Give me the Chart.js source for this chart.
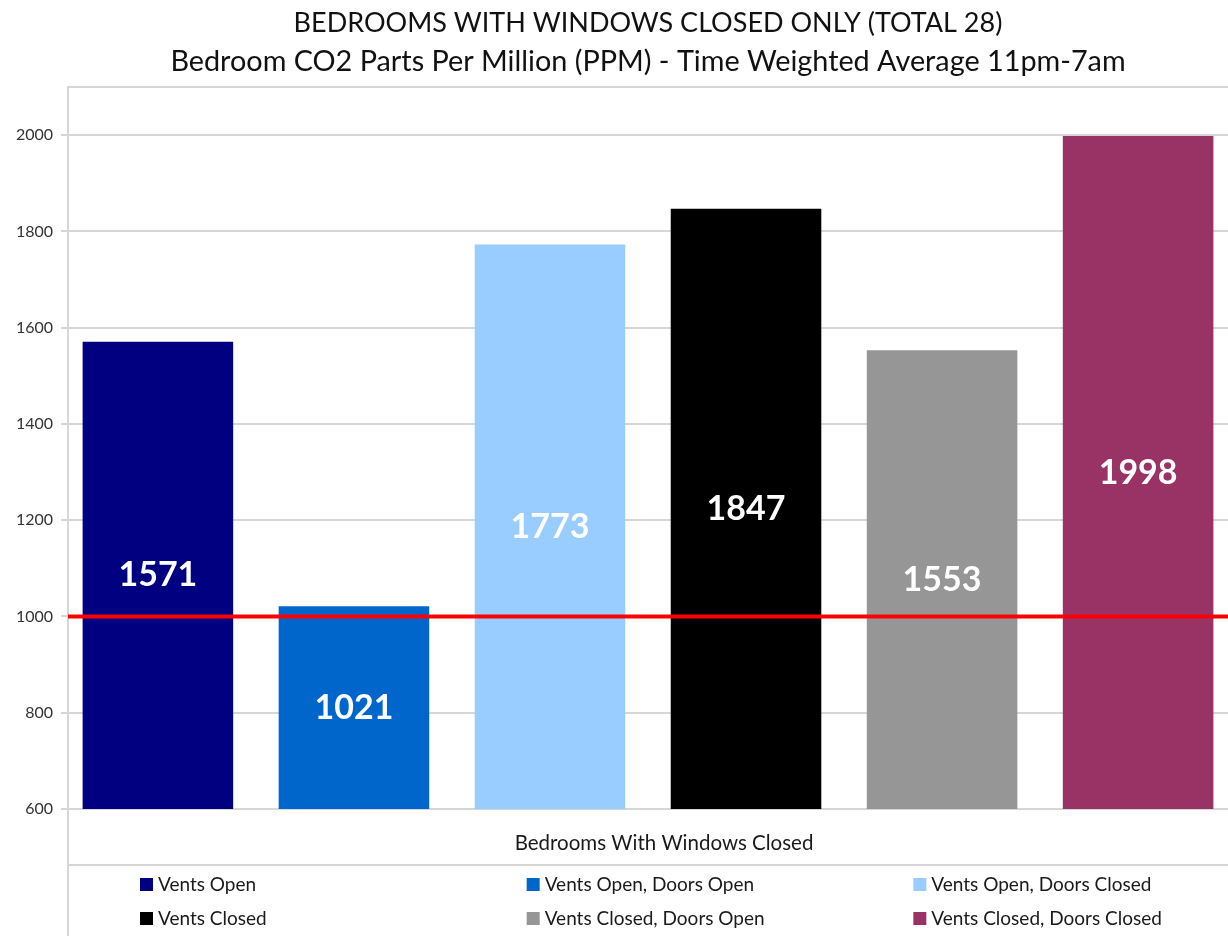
<!DOCTYPE html>
<html>
<head>
<meta charset="utf-8">
<script src="https://cdn.jsdelivr.net/npm/chart.js@4.4.1/dist/chart.umd.min.js"></script>
<style>
  html, body { margin: 0; padding: 0; background: #fff; }
  #wrap { width: 1228px; height: 936px; }
</style>
</head>
<body>
<div id="wrap"><canvas id="chart" width="1228" height="936"></canvas></div>
<script>
const titleLines = [
  'BEDROOMS WITH WINDOWS CLOSED ONLY (TOTAL 28)',
  'Bedroom CO2 Parts Per Million (PPM) - Time Weighted Average 11pm-7am'
];
const categories = ['Bedrooms With Windows Closed'];
const seriesNames = [
  'Vents Open',
  'Vents Open, Doors Open',
  'Vents Open, Doors Closed',
  'Vents Closed',
  'Vents Closed, Doors Open',
  'Vents Closed, Doors Closed'
];
const seriesValues = [1571, 1021, 1773, 1847, 1553, 1998];
const seriesColors = ['#000080', '#0066cc', '#99ccff', '#000000', '#969696', '#993366'];
const yMin = 600;
const yMax = 2100;
const yStep = 200;
const threshold = 1000;

const FONT = 'Lato, "Open Sans", sans-serif';
const GRID = '#d6d6d6';

const datasets = seriesNames.map((name, i) => ({
  label: name,
  data: [seriesValues[i]],
  backgroundColor: seriesColors[i],
  borderWidth: 0,
  categoryPercentage: 1.014,
  barPercentage: 0.768
}));

// title, threshold line, value labels, category frame and legend table
const decorations = {
  id: 'decorations',
  afterDatasetsDraw(chart) {
    const { ctx, chartArea: a, scales } = chart;
    const y = scales.y.getPixelForValue(threshold);
    ctx.save();
    ctx.strokeStyle = '#ff0000';
    ctx.lineWidth = 4;
    ctx.beginPath();
    ctx.moveTo(a.left, y);
    ctx.lineTo(a.right, y);
    ctx.stroke();

    // value in the middle of the visible part of each bar
    const bottom = scales.y.getPixelForValue(scales.y.min);
    ctx.fillStyle = '#ffffff';
    ctx.font = 'bold 34px ' + FONT;
    ctx.textAlign = 'center';
    ctx.textBaseline = 'middle';
    chart.data.datasets.forEach((ds, i) => {
      const bar = chart.getDatasetMeta(i).data[0];
      ctx.fillText(String(ds.data[0]), bar.x, (bar.y + bottom) / 2);
    });
    ctx.restore();
  },
  afterDraw(chart) {
    const { ctx, chartArea: a } = chart;
    ctx.save();
    // frame lines
    ctx.strokeStyle = GRID;
    ctx.lineWidth = 2;
    ctx.beginPath();
    ctx.moveTo(a.left, a.top);
    ctx.lineTo(a.right, a.top);
    ctx.moveTo(a.left, a.bottom);
    ctx.lineTo(a.left, chart.height);
    const sep = a.bottom + 56;
    ctx.moveTo(a.left, sep);
    ctx.lineTo(a.right, sep);
    ctx.stroke();

    // title
    const cx = (a.left + a.right) / 2;
    ctx.fillStyle = '#111111';
    ctx.textAlign = 'center';
    ctx.textBaseline = 'middle';
    ctx.font = '27px ' + FONT;
    ctx.fillText(titleLines[0], cx, 23);
    ctx.font = '28.8px ' + FONT;
    ctx.fillText(titleLines[1], cx, 62);

    // legend table
    const colW = (a.right - a.left) / 3;
    ctx.font = '19px ' + FONT;
    ctx.textAlign = 'left';
    chart.data.datasets.forEach((ds, i) => {
      const x = a.left + (i % 3) * colW + 72;
      const ly = sep + 19 + Math.floor(i / 3) * 34;
      ctx.fillStyle = ds.backgroundColor;
      ctx.fillRect(x, ly - 6, 13, 13);
      ctx.fillStyle = '#1a1a1a';
      ctx.fillText(ds.label, x + 18, ly + 1);
    });
    ctx.restore();
  }
};

new Chart(document.getElementById('chart'), {
  type: 'bar',
  data: { labels: categories, datasets: datasets },
  options: {
    responsive: false,
    animation: false,
    devicePixelRatio: 1,
    layout: { padding: { top: 87, right: 0, left: 0, bottom: 0 } },
    plugins: {
      legend: { display: false },
      title: { display: false },
      tooltip: { enabled: false }
    },
    scales: {
      x: {
        grid: { display: false },
        border: { display: false },
        ticks: { color: '#1a1a1a', font: { family: FONT, size: 20.5 }, padding: 14, labelOffset: 16 },
        afterFit(scale) { scale.height = 127; }
      },
      y: {
        min: yMin,
        max: yMax,
        border: { color: GRID, width: 2 },
        grid: { color: GRID, lineWidth: 2, tickLength: 7, tickColor: GRID },
        ticks: {
          stepSize: yStep,
          includeBounds: false,
          padding: 8,
          color: '#333333',
          font: { family: FONT, size: 16 },
          callback: (v) => String(v)
        },
        afterFit(scale) { scale.width = 68; }
      }
    }
  },
  plugins: [decorations]
});
</script>
</body>
</html>
